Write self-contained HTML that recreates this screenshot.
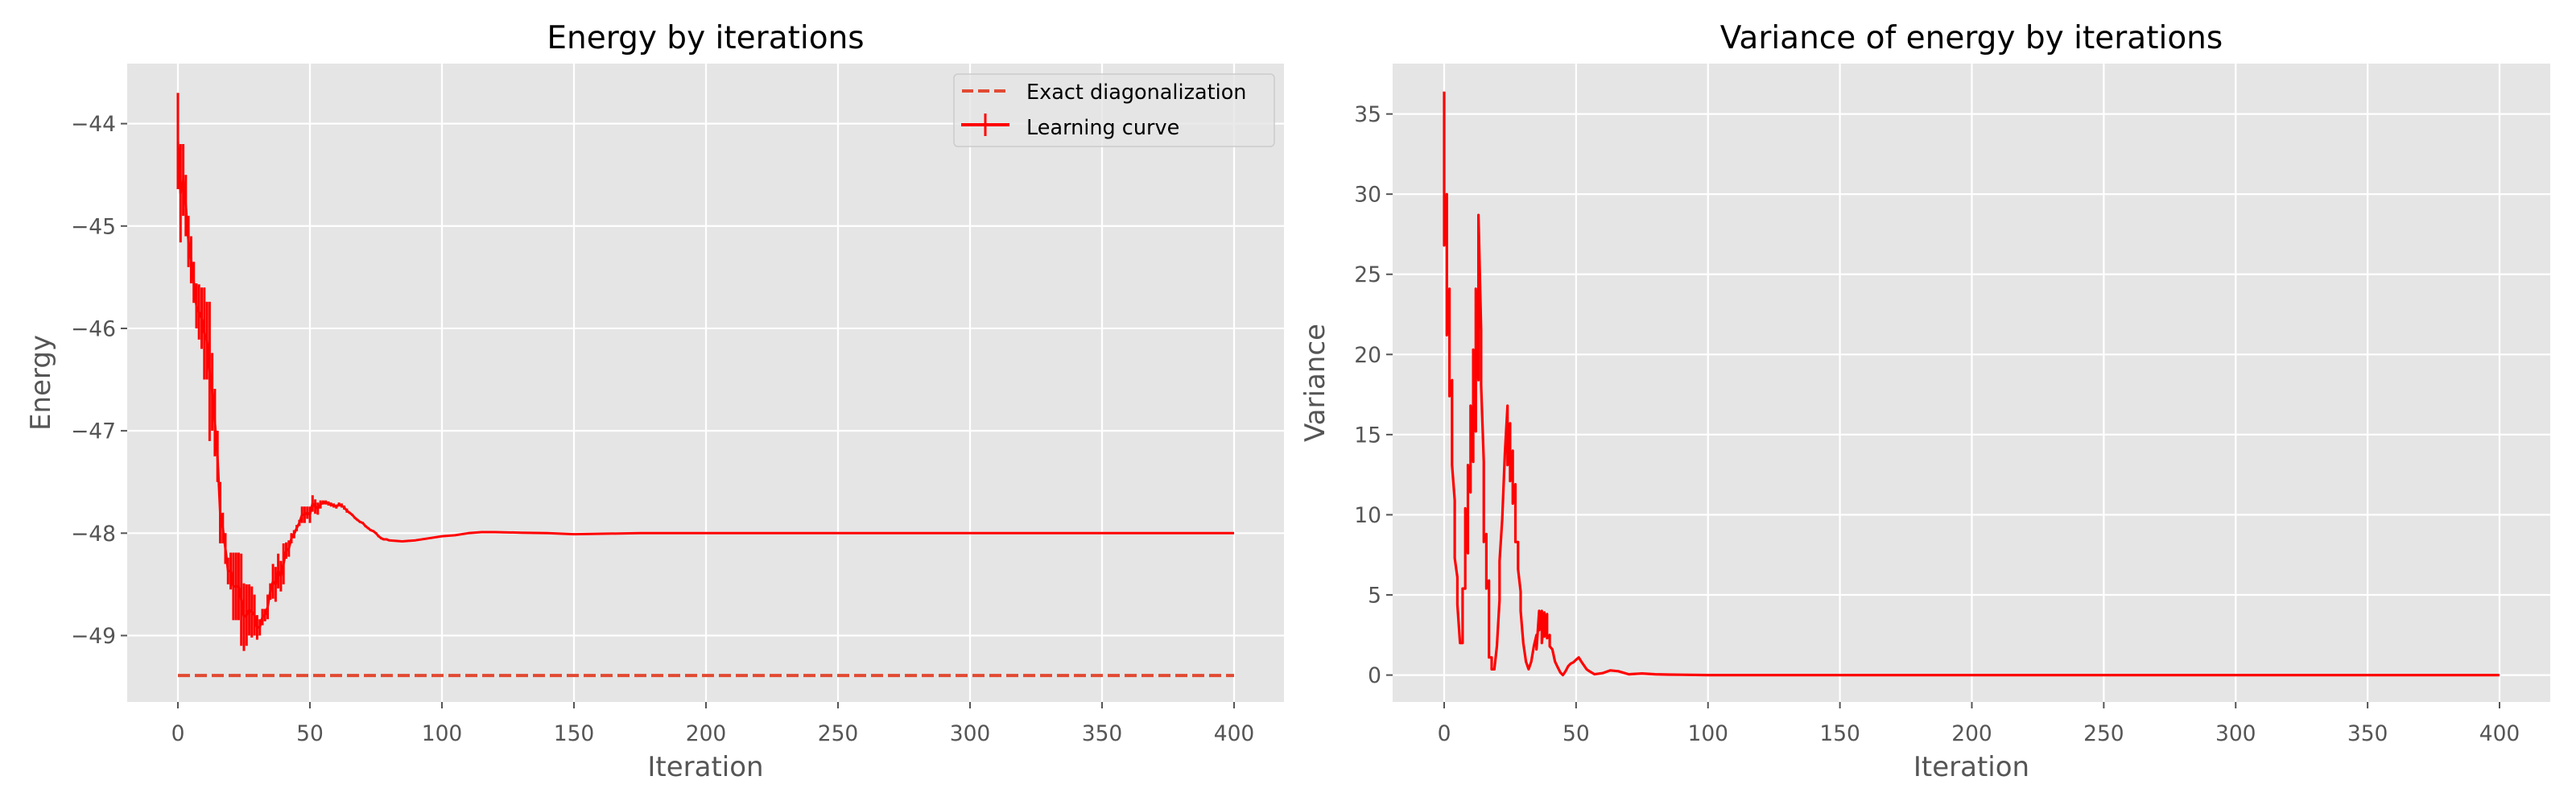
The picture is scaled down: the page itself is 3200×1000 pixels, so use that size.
<!DOCTYPE html>
<html><head><meta charset="utf-8"><style>
body{margin:0;background:#fff;}
svg{display:block;}
text{font-family:"DejaVu Sans","Liberation Sans",sans-serif;}
</style></head><body>
<svg id="fig" width="3200" height="1000" viewBox="0 0 3200 1000" xmlns="http://www.w3.org/2000/svg"></svg>
<script>
// ---- Energy chart data ----
const energyIter=[0,1,2,3,4,5,6,7,8,9,10,11,12,13,14,15,16,17,18,19,20,21,22,23,24,25,26,27,28,29,30,31,32,33,34,35,36,37,38,39,40,41,42,43,44,45,46,47,48,49,50,51,52,53,54,55,56,57,58,59,60,61,62,63,64,65,66,67,68,69,70,71,72,73,74,75,76,77,78,79,80,85,90,95,100,105,110,115,120,130,140,150,175,200,250,300,350,400];
const energyMean=[-44.17,-44.68,-44.55,-44.8,-45.15,-45.33,-45.55,-45.78,-45.84,-45.9,-46.05,-46.12,-46.42,-46.62,-46.92,-47.25,-47.8,-47.95,-48.15,-48.37,-48.37,-48.52,-48.52,-48.52,-48.65,-48.82,-48.8,-48.75,-48.77,-48.8,-48.92,-48.92,-48.82,-48.8,-48.72,-48.57,-48.47,-48.5,-48.37,-48.42,-48.3,-48.17,-48.15,-48.05,-48.01,-47.95,-47.9,-47.82,-47.82,-47.8,-47.82,-47.71,-47.74,-47.76,-47.72,-47.7,-47.7,-47.71,-47.72,-47.73,-47.74,-47.72,-47.73,-47.75,-47.78,-47.8,-47.82,-47.85,-47.87,-47.89,-47.9,-47.93,-47.95,-47.97,-47.98,-48.0,-48.03,-48.05,-48.06,-48.06,-48.07,-48.08,-48.07,-48.05,-48.03,-48.02,-48.0,-47.99,-47.99,-47.995,-48.0,-48.01,-48.0,-48.0,-48.0,-48.0,-48.0,-48.0];
const energyErr=[0.47,0.48,0.35,0.3,0.25,0.23,0.2,0.22,0.27,0.3,0.45,0.38,0.68,0.38,0.33,0.25,0.3,0.15,0.15,0.13,0.18,0.33,0.33,0.33,0.45,0.33,0.3,0.25,0.25,0.2,0.12,0.08,0.08,0.06,0.12,0.08,0.17,0.17,0.17,0.15,0.2,0.08,0.08,0.05,0.04,0.03,0.03,0.08,0.08,0.06,0.08,0.08,0.07,0.06,0.04,0.02,0.02,0.02,0.02,0.02,0.02,0.02,0.02,0.02,0.02,0.01,0.01,0.01,0.01,0.01,0.01,0.01,0.01,0.01,0.01,0.01,0.01,0.01,0.01,0.01,0.01,0,0,0,0,0,0,0,0,0,0,0,0,0,0,0,0,0];
const exactEnergy=[-49.39];
const energyYTicks=[-44,-45,-46,-47,-48,-49];
const xTicks=[0,50,100,150,200,250,300,350,400];
// ---- Variance chart data ----
const varIter=[0,1,2,3,4,5,6,7,8,9,10,11,12,13,14,15,16,17,18,19,20,21,22,23,24,25,26,27,28,29,30,31,32,33,34,35,36,37,38,39,40,41,42,43,44,45,46,47,48,49,50,51,52,53,54,55,57,60,63,66,70,75,80,85,90,100,150,200,300,400];
const varA=[36.4,30.0,24.1,18.4,10.9,6.1,2.0,2.0,5.4,7.6,11.4,13.3,15.2,18.4,21.5,13.3,8.8,5.9,1.1,0.36,1.8,4.7,9.7,13.8,16.8,15.7,14.0,11.9,8.3,5.2,2.0,0.84,0.36,0.84,1.8,2.5,4.0,4.0,3.9,3.8,2.5,1.6,0.84,0.5,0.17,0.0,0.24,0.55,0.72,0.8,0.96,1.1,0.84,0.6,0.36,0.24,0.05,0.12,0.29,0.24,0.05,0.1,0.05,0.03,0.02,0.0,0,0,0,0];
const varB=[26.8,21.2,17.4,13.1,7.3,4.4,2.0,5.4,10.4,13.1,16.8,20.3,24.1,28.7,18.1,8.3,5.4,1.1,0.36,0.36,1.8,7.1,9.7,13.8,13.1,12.1,10.7,8.3,6.6,4.0,2.0,0.84,0.36,0.84,1.8,1.6,2.8,2.0,2.4,2.3,1.8,1.6,0.84,0.5,0.17,0.0,0.24,0.55,0.72,0.8,0.96,1.1,0.84,0.6,0.36,0.24,0.05,0.12,0.29,0.24,0.05,0.1,0.05,0.03,0.02,0.0,0,0,0,0];
const varYTicks=[0,5,10,15,20,25,30,35];

const NS='http://www.w3.org/2000/svg';
const svg=document.getElementById('fig');
function mk(tag,attrs,parent){const e=document.createElementNS(NS,tag);for(const k in attrs)e.setAttribute(k,attrs[k]);(parent||svg).appendChild(e);return e;}

function axes(cfg){
  const g=mk('g',{});
  
  
  const bg=mk('rect',{x:cfg.L,y:cfg.T,width:cfg.R-cfg.L,height:cfg.B-cfg.T,fill:'#E5E5E5'},g);
  
  
  const xs=v=>cfg.x0px+(v-0)*(cfg.x400px-cfg.x0px)/400;
  const ys=v=>cfg.yApx+(v-cfg.yA)*(cfg.yBpx-cfg.yApx)/(cfg.yB-cfg.yA);
  xTicks.forEach(t=>{
    const x=xs(t);
    const gl=mk('line',{x1:x,x2:x,y1:cfg.T,y2:cfg.B,stroke:'#fff','stroke-width':2.2},g);
    
    
    mk('line',{x1:x,x2:x,y1:cfg.B,y2:cfg.B+8,stroke:'#555','stroke-width':2},g);
    const tl=mk('text',{x:x,y:cfg.B+48,'font-size':26.5,fill:'#555','text-anchor':'middle'},g);
    tl.textContent=t;
    
    
  });
  cfg.yTicks.forEach(t=>{
    const y=ys(t);
    const gl=mk('line',{x1:cfg.L,x2:cfg.R,y1:y,y2:y,stroke:'#fff','stroke-width':2.2},g);
    
    
    mk('line',{x1:cfg.L-8,x2:cfg.L,y1:y,y2:y,stroke:'#555','stroke-width':2},g);
    const tl=mk('text',{x:cfg.L-14,y:y+9.5,'font-size':26.5,fill:'#555','text-anchor':'end'},g);
    tl.textContent=String(t).replace('-','\u2212');
    
    
  });
  const ti=mk('text',{x:(cfg.L+cfg.R)/2,y:60,'font-size':39,fill:'#000','text-anchor':'middle'},g);
  ti.textContent=cfg.title;
  
  
  const xl=mk('text',{x:(cfg.L+cfg.R)/2,y:964,'font-size':34,fill:'#555','text-anchor':'middle'},g);
  xl.textContent='Iteration';
  
  
  const yl=mk('text',{x:0,y:0,'font-size':34,fill:'#555','text-anchor':'middle',transform:`translate(${cfg.ylx},${(cfg.T+cfg.B)/2}) rotate(-90)`},g);
  yl.textContent=cfg.ylabel;
  
  
  return {g,xs,ys};
}

// Energy chart
const A=axes({name:'energy-chart',L:158,R:1595,T:79,B:872,x0px:221,x400px:1533,yA:-44,yApx:153.6,yB:-49,yBpx:789.5,yTicks:energyYTicks,title:'Energy by iterations',ylabel:'Energy',ylx:62});
const ex=mk('line',{x1:A.xs(0),x2:A.xs(400),y1:A.ys(exactEnergy[0]),y2:A.ys(exactEnergy[0]),stroke:'#E24A33','stroke-width':4,'stroke-dasharray':'15 6'},A.g);


let d='';
energyIter.forEach((it,i)=>{d+=(i?'L':'M')+A.xs(it).toFixed(1)+' '+A.ys(energyMean[i]).toFixed(1);});
let eb='';
energyIter.forEach((it,i)=>{if(energyErr[i]>0){const x=A.xs(it).toFixed(1);eb+='M'+x+' '+A.ys(energyMean[i]+energyErr[i]).toFixed(1)+'V'+A.ys(energyMean[i]-energyErr[i]).toFixed(1);}});
const ebp=mk('path',{d:eb,stroke:'#FF0000','stroke-width':3,fill:'none'},A.g);


const lc=mk('path',{d:d,stroke:'#FF0000','stroke-width':3,fill:'none','stroke-linejoin':'round'},A.g);



// Legend
const lg=mk('g',{},A.g);


mk('rect',{x:1185,y:92,width:398,height:90,rx:5,fill:'#E5E5E5','fill-opacity':0.8,stroke:'#CCCCCC','stroke-width':1.5},lg);
const l1=mk('line',{x1:1195,x2:1252,y1:113,y2:113,stroke:'#E24A33','stroke-width':4,'stroke-dasharray':'14 6'},lg);


const t1=mk('text',{x:1275,y:123,'font-size':25.5,fill:'#000'},lg);
t1.textContent='Exact diagonalization';


mk('line',{x1:1194,x2:1254,y1:155,y2:155,stroke:'#FF0000','stroke-width':4},lg);
mk('line',{x1:1224,x2:1224,y1:141,y2:169,stroke:'#FF0000','stroke-width':3},lg);
const t2=mk('text',{x:1275,y:167,'font-size':25.5,fill:'#000'},lg);
t2.textContent='Learning curve';



// Variance chart
const B=axes({name:'variance-chart',L:1730,R:3168,T:79,B:872,x0px:1794,x400px:3105,yA:0,yApx:838.6,yB:35,yBpx:141.6,yTicks:varYTicks,title:'Variance of energy by iterations',ylabel:'Variance',ylx:1645});
let vd='';
varIter.forEach((it,i)=>{const x=B.xs(it).toFixed(1);vd+=(i?'L':'M')+x+' '+B.ys(varA[i]).toFixed(1)+'L'+x+' '+B.ys(varB[i]).toFixed(1);});
const vl=mk('path',{d:vd,stroke:'#FF0000','stroke-width':3.2,fill:'none','stroke-linejoin':'round'},B.g);


</script>
</body></html>
